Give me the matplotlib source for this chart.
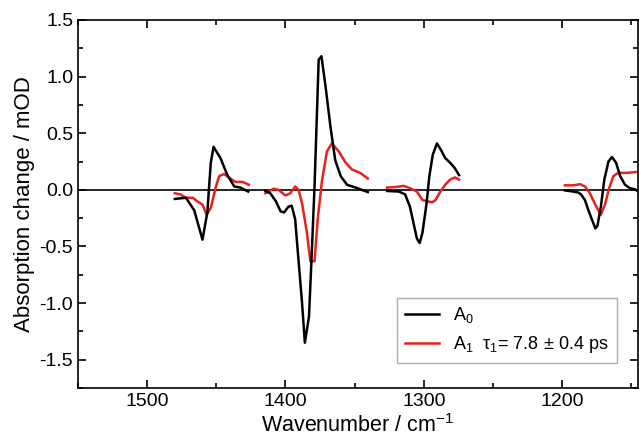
import matplotlib
matplotlib.use("Agg")
import matplotlib.pyplot as plt
import numpy as np
from matplotlib.ticker import MultipleLocator

plt.rcParams['font.family'] = ['Liberation Sans', 'DejaVu Sans']
plt.rcParams['mathtext.fontset'] = 'custom'
plt.rcParams['mathtext.rm'] = 'Liberation Sans'
plt.rcParams['mathtext.it'] = 'Liberation Sans'

# Segment 1
a0_x1 = [1480, 1472, 1466, 1460, 1456.5, 1454, 1452, 1447, 1442, 1437, 1432.5, 1427]
a0_y1 = [-0.08, -0.07, -0.18, -0.44, -0.20, 0.24, 0.38, 0.28, 0.13, 0.03, 0.02, -0.015]
a1_x1 = [1480, 1476, 1472, 1467, 1464, 1460, 1457, 1454, 1450.5, 1448, 1444.5, 1440, 1436, 1431, 1426.5]
a1_y1 = [-0.03, -0.04, -0.07, -0.07, -0.10, -0.13, -0.22, -0.16, 0.02, 0.12, 0.14, 0.10, 0.07, 0.07, 0.045]

# Segment 2
a0_x2 = [1414.5, 1411, 1407, 1403.5, 1401, 1398, 1395.5, 1393, 1391, 1388, 1386, 1383, 1381, 1379,
         1377, 1376, 1374, 1371, 1367.5, 1364, 1360, 1355.5, 1348, 1340.5]
a0_y2 = [-0.01, -0.03, -0.10, -0.19, -0.20, -0.15, -0.14, -0.26, -0.56, -1.00, -1.35, -1.12, -0.56, 0.03,
         0.77, 1.15, 1.18, 0.91, 0.56, 0.26, 0.12, 0.045, 0.015, -0.02]
a1_x2 = [1414.5, 1408.5, 1405, 1400, 1396.5, 1393, 1390.5, 1388, 1384.5, 1382, 1379, 1376.7, 1373.5,
         1370, 1366.5, 1361.5, 1356.5, 1352, 1346, 1340.5]
a1_y2 = [-0.03, 0.01, 0.0, -0.05, -0.03, 0.03, 0.0, -0.12, -0.38, -0.63, -0.63, -0.26, 0.09,
         0.34, 0.41, 0.34, 0.24, 0.18, 0.15, 0.10]

# Segment 3
a0_x3 = [1326.5, 1318, 1313.5, 1310, 1307.5, 1305, 1303, 1301, 1298, 1296, 1293.5, 1290.5, 1287.5,
         1284.5, 1281, 1277.5, 1274.5]
a0_y3 = [-0.01, -0.015, -0.04, -0.15, -0.29, -0.43, -0.47, -0.38, -0.12, 0.12, 0.31, 0.41, 0.35,
         0.28, 0.24, 0.19, 0.13]
a1_x3 = [1326.5, 1320.5, 1314.5, 1310, 1305, 1301, 1297.7, 1294, 1291.5, 1288, 1284.5, 1281, 1277.5, 1274.5]
a1_y3 = [0.02, 0.025, 0.035, 0.015, -0.015, -0.09, -0.10, -0.11, -0.09, -0.015, 0.045, 0.09, 0.11, 0.09]

# Segment 4
a0_x4 = [1198, 1192, 1188, 1186, 1183.5, 1181, 1178.5, 1176, 1174.5, 1172, 1169.5, 1166.5, 1164,
         1161, 1158, 1154.5, 1151, 1147.3, 1144.5]
a0_y4 = [-0.005, -0.015, -0.025, -0.045, -0.09, -0.18, -0.26, -0.34, -0.32, -0.15, 0.09, 0.25, 0.29,
         0.24, 0.12, 0.045, 0.015, 0.005, -0.02]
a1_x4 = [1198, 1192, 1187, 1183.5, 1180, 1176, 1173, 1172, 1169, 1166, 1163, 1159.5, 1153.5, 1148.5, 1144.5]
a1_y4 = [0.04, 0.04, 0.05, 0.03, -0.03, -0.13, -0.20, -0.22, -0.13, 0.015, 0.12, 0.15, 0.15, 0.155, 0.16]

a0_segments = [(a0_x1, a0_y1), (a0_x2, a0_y2), (a0_x3, a0_y3), (a0_x4, a0_y4)]
a1_segments = [(a1_x1, a1_y1), (a1_x2, a1_y2), (a1_x3, a1_y3), (a1_x4, a1_y4)]

fig = plt.figure(figsize=(6.39, 4.45), dpi=100)
ax = fig.add_axes([78/639, 1 - 388/445, (637.5 - 78)/639, (388 - 20)/445])

ax.axhline(0, color='black', lw=1.2, zorder=1)

for i, (x, y) in enumerate(a0_segments):
    ax.plot(x, y, color='black', lw=1.8, label=r'A$_0$' if i == 0 else None, zorder=3)
for i, (x, y) in enumerate(a1_segments):
    ax.plot(x, y, color='#e8211e', lw=1.8,
            label=r'A$_1$  $\tau_1$= 7.8$\,\pm\,$0.4 ps' if i == 0 else None, zorder=2)

ax.set_xlim(1550, 1145.5)
ax.set_ylim(-1.75, 1.5)
ax.xaxis.set_major_locator(MultipleLocator(100))
ax.xaxis.set_minor_locator(MultipleLocator(50))
ax.yaxis.set_major_locator(MultipleLocator(0.5))
ax.yaxis.set_minor_locator(MultipleLocator(0.25))
ax.yaxis.set_major_formatter(matplotlib.ticker.FormatStrFormatter('%.1f'))
ax.tick_params(which='both', direction='in', top=True, right=True, width=1.2, labelsize=14)
ax.tick_params(which='major', length=6)
ax.tick_params(which='minor', length=3.5)
for s in ax.spines.values():
    s.set_linewidth(1.2)

ax.set_xlabel('Wavenumber / cm$^{-1}$', fontsize=15.5, labelpad=3)
ax.set_ylabel('Absorption change / mOD', fontsize=16, labelpad=3)

leg = ax.legend(loc='lower right', fontsize=13, frameon=True, fancybox=False,
                edgecolor='#999999', handlelength=1.9, borderaxespad=1.0,
                bbox_to_anchor=(0.995, 0.02))
leg.get_frame().set_linewidth(1.0)

fig.savefig('out.png', dpi=100)
